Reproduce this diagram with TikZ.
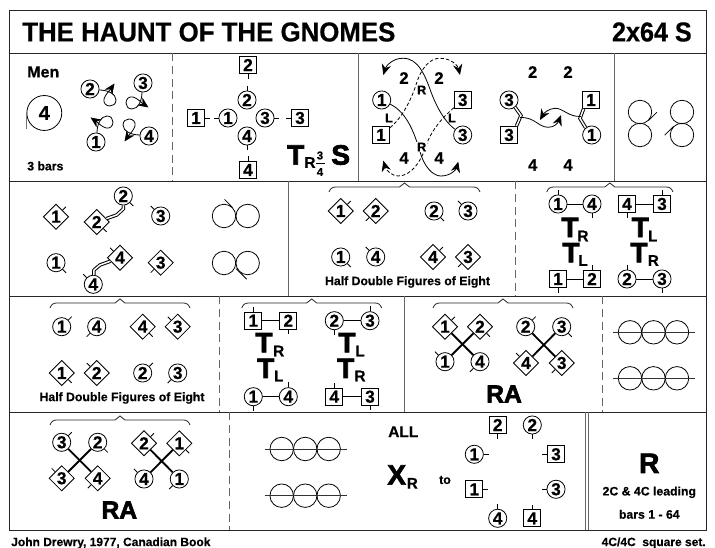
\documentclass[tikz,border=0pt]{standalone}
\usepackage{fontspec}
\setmainfont{Liberation Sans}[BoldFeatures={FakeBold=0.5}]
\newfontfamily\hvy{Liberation Sans}[BoldFeatures={FakeBold=2.6}]
\usetikzlibrary{arrows.meta,shapes.geometric}
\tikzset{
  frame/.style={draw=black!85,line width=0.8pt},
  sep/.style={draw=black!60,line width=0.8pt,dash pattern=on 6pt off 3.5pt},
  sepsolid/.style={draw=black!60,line width=0.9pt},
  man/.style={circle,draw,line width=0.6pt,minimum size=13.6pt,inner sep=0pt,font=\bfseries\fontsize{13}{13}\selectfont,fill=white},
  lady/.style={rectangle,draw,line width=0.6pt,minimum size=12.8pt,inner sep=0pt,font=\bfseries\fontsize{13}{13}\selectfont,fill=white},
  dia/.style={diamond,draw,line width=0.6pt,minimum size=19pt,inner sep=0pt,font=\bfseries\fontsize{13}{13}\selectfont,fill=white},
  tick/.style={line width=0.6pt},
  conn/.style={line width=0.6pt},
  thickconn/.style={line width=1.4pt},
  dbl/.style={line width=0.75pt,double=white,double distance=1.1pt,draw=black,line join=miter,miter limit=10},
  tipcurve/.style={line width=0.6pt,-{Stealth[length=8pt,width=7pt,inset=2.6pt]}},
  dashcurve/.style={tipcurve,dash pattern=on 2.6pt off 1.6pt},
  brace/.style={line width=0.6pt,draw=black!85},
  ring/.style={circle,draw,line width=0.6pt,minimum size=17.6pt,inner sep=0pt},
  lab/.style={font=\bfseries\fontsize{9.2}{9.2}\selectfont,inner sep=0pt},
  bign/.style={font=\bfseries\fontsize{12.5}{12.5}\selectfont,inner sep=0pt},
  smallrl/.style={font=\bfseries\fontsize{9.5}{9.5}\selectfont,inner sep=0.6pt},
  bigT/.style={font=\hvy\bfseries\fontsize{21}{21}\selectfont,inner sep=0pt},
  subT/.style={font=\bfseries\fontsize{11.5}{11.5}\selectfont,inner sep=0pt},
  RAt/.style={font=\hvy\bfseries\fontsize{18.5}{18.5}\selectfont,inner sep=0pt},
  captxt/.style={font=\bfseries\fontsize{9.2}{9.2}\selectfont,inner sep=0pt},
}
\newcommand{\dancer}[6]{\node[#1] (#2) at (#3,#4) {#5};
  \draw[tick] (#2.#6) -- ++(#6:3.6pt);}
\newcommand{\brc}[3]{%
  \draw[brace] (#1,#3+5) .. controls (#1+1.5,#3+1.5) and (#1+3,#3) .. (#1+7,#3)
    -- ({(#1+#2)/2-5},#3) -- ({(#1+#2)/2},#3-4) -- ({(#1+#2)/2+5},#3)
    -- (#2-7,#3) .. controls (#2-3,#3) and (#2-1.5,#3+1.5) .. (#2,#3+5);}
\newcommand{\threerings}[3]{%
  \node[ring] (#3a) at (#1,#2) {};
  \node[ring] (#3b) at (#1+23.5,#2) {};
  \node[ring] (#3c) at (#1+47,#2) {};
  \coordinate (#3l) at (#1-17,#2);
  \coordinate (#3r) at (#1+65,#2);
  \draw[line width=0.7pt,draw=black!80] (#3l) -- (#3r);}
\begin{document}
\begin{tikzpicture}[x=0.75pt,y=-0.75pt]
\useasboundingbox (0,0) rectangle (715,548);
% frame
\draw[frame] (9.5,10.5) rectangle (706.5,530.5);
\draw[frame] (9.5,53.5) -- (706.5,53.5);
\draw[frame] (9.5,181.5) -- (706.5,181.5);
\draw[frame] (9.5,296.5) -- (706.5,296.5);
\draw[frame] (9.5,412.5) -- (706.5,412.5);
\draw[sep] (172.5,53.5) -- (172.5,181.5);
\draw[sepsolid] (358.5,53.5) -- (358.5,181.5);
\draw[sepsolid] (614.5,53.5) -- (614.5,181.5);
\draw[sepsolid] (288.5,181.5) -- (288.5,296.5);
\draw[sep] (515.5,181.5) -- (515.5,296.5);
\draw[sep] (219.5,296.5) -- (219.5,412.5);
\draw[sepsolid] (404.5,296.5) -- (404.5,412.5);
\draw[sep] (602.5,296.5) -- (602.5,412.5);
\draw[sep] (229.5,412.5) -- (229.5,530.5);
\draw[sepsolid] (585.5,412.5) -- (585.5,530.5);
\draw[sepsolid] (588.5,412.5) -- (588.5,530.5);
% title
\node[anchor=west,inner sep=0pt,font=\bfseries\fontsize{20.5}{20.5}\selectfont] (title) at (22,32) {\scalebox{0.945}[1]{THE HAUNT OF THE GNOMES}};
\node[anchor=east,inner sep=0pt,font=\bfseries\fontsize{20.5}{20.5}\selectfont] (form) at (692,32) {\scalebox{0.92}[1]{2x64 S}};
% footer
\node[anchor=west,inner sep=0pt,font=\bfseries\fontsize{9}{9}\selectfont] (src) at (11,543) {John Drewry, 1977, Canadian Book};
\node[anchor=east,inner sep=0pt,font=\bfseries\fontsize{9}{9}\selectfont] (setn) at (706,543) {4C/4C\ \ square set.};
% ---------- Row 1, panel 1
\node[anchor=west,inner sep=0pt,font=\bfseries\fontsize{12}{12}\selectfont] (men) at (27,72) {Men};
\node[circle,draw,line width=0.6pt,minimum size=26.2pt,inner sep=0pt,font=\bfseries\fontsize{15}{15}\selectfont] (big4) at (44.3,113) {4};
\draw[line width=0.9pt,draw=black!55] (big4.west) -- ++(0,-12pt);
\node[anchor=west,lab] (bars3) at (27,166) {3 bars};
\node[man] (a2) at (90,89) {2};
\node[man] (a3) at (143,83) {3};
\node[man] (a4) at (149,136) {4};
\node[man] (a1) at (96,142) {1};
\foreach \ang in {0,-90,-180,-270}{
  \begin{scope}[rotate around={\ang:(119.5,112.5)}]
  \draw[tipcurve] (99,90) .. controls (108,90) and (116,94) .. (116,100) .. controls (116,104) and (113,106) .. (110,106) .. controls (106,106) and (103,103) .. (104,99) .. controls (105,95) and (110,90) .. (114.5,83.5);
  \end{scope}
}
% ---------- Row 1, panel 2
\dancer{lady}{b2s}{248}{65}{2}{-90}
\dancer{man}{b2}{247}{100}{2}{90}
\dancer{man}{b1}{228}{118}{1}{180}
\dancer{man}{b3}{265}{118}{3}{0}
\dancer{man}{b4}{247}{136}{4}{-90}
\dancer{lady}{b1s}{196}{118}{1}{0}
\dancer{lady}{b3s}{300}{118}{3}{180}
\dancer{lady}{b4s}{248}{170}{4}{90}
\node[bigT] (bT) at (295.7,155) {T};
\node[subT] (bR) at (310,162.5) {R};
\node[inner sep=0pt,font=\bfseries\fontsize{8.5}{8.5}\selectfont] (bf3) at (320,155.5) {3};
\node[inner sep=0pt,font=\bfseries\fontsize{8.5}{8.5}\selectfont] (bf4) at (320,172) {4};
\draw[line width=0.8pt] (316,163.5) -- (324.5,163.5);
\node[bigT] (bS) at (340.7,155) {S};
% ---------- Row 1, panel 3
\node[man] (c1) at (381.7,100) {1};
\node[lady] (c1s) at (381,135) {1};
\node[man] (c3) at (462.7,135) {3};
\node[lady] (c3s) at (462.7,100) {3};
\draw[dashcurve] (c1s) .. controls (402,118) and (411,100) .. (416,85) .. controls (421,68) and (430,58) .. (440,58.3) .. controls (451,58) and (458,66) .. (460,75);
\draw[dashcurve] (c3s) .. controls (442,118) and (432,130) .. (427,143) .. controls (422,160) and (412,176) .. (398,176) .. controls (392,176) and (386,170) .. (383.3,160.7);
\draw[tipcurve] (c1) .. controls (408,113) and (415,135) .. (421,155) .. controls (427,172) and (436,176) .. (441,176) .. controls (450,176) and (456,170) .. (458.3,161.7);
\draw[tipcurve] (c3) .. controls (445,122) and (437,108) .. (431,92) .. controls (425,75) and (418,58) .. (403,58.3) .. controls (393,58) and (386,66) .. (383.3,75);
\node[bign] (c2a) at (404,78) {2};
\node[bign] (c2b) at (439,78) {2};
\node[bign] (c4a) at (404,158) {4};
\node[bign] (c4b) at (439,158) {4};
\node[smallrl,fill=white] (cR1) at (421.7,90) {R};
\node[smallrl,fill=white] (cR2) at (421.7,147) {R};
\node[smallrl] (cL1) at (389,118) {L};
\node[smallrl] (cL2) at (452,118) {L};
% panel 3b
\node[bign] (d2a) at (532.7,72) {2};
\node[bign] (d2b) at (568,72) {2};
\node[bign] (d4a) at (532.7,165) {4};
\node[bign] (d4b) at (568,165) {4};
\node[man] (d3) at (509,100) {3};
\node[lady] (d3s) at (509,135) {3};
\node[lady] (d1s) at (591,100) {1};
\node[man] (d1) at (591.7,135) {1};
\coordinate (dzl) at (521,115.5);
\coordinate (dzr) at (580,118.5);
\draw[dbl] (d3.-50) -- (dzl) -- (d3s.50);
\draw[dbl] (d1s.-130) -- (dzr) -- (d1.130);
\draw[tipcurve] (dzl) ++(-1,2) .. controls (535,117) and (538,127) .. (548,127.3) .. controls (554,127.5) and (558,123) .. (561,115);
\draw[tipcurve] (dzr) ++(1,-2) .. controls (568,117) and (563,108) .. (555,108.3) .. controls (549,108.5) and (544,113) .. (540,120);
% panel 4
\node[ring] (e1) at (640,112) {};
\node[ring] (e2) at (640,135) {};
\node[ring] (e3) at (682,112) {};
\node[ring] (e4) at (682,135) {};
\draw[tick] (e1.-45) -- ++(45:8.8pt);
\draw[tick] (e4.135) -- ++(-135:9.3pt);
% ---------- Row 2, panel 1
\dancer{dia}{f1}{56}{216.7}{1}{45}
\dancer{dia}{f2}{96.7}{222}{2}{-45}
\dancer{man}{f2c}{123.3}{196}{2}{-45}
\dancer{man}{f3}{160.7}{216}{3}{135}
\dancer{man}{f1b}{56}{262.7}{1}{-45}
\dancer{dia}{f4}{120}{257.7}{4}{135}
\dancer{man}{f4c}{93.3}{284.3}{4}{135}
\dancer{dia}{f3b}{160.7}{262.7}{3}{-135}
\coordinate (fz1) at (116.7,215);
\coordinate (fz2) at (123.3,209);
\coordinate (fz3) at (100,265);
\coordinate (fz4) at (94,270);
\draw[dbl] (f2) -- (fz1) -- (fz2) -- (f2c);
\draw[dbl] (f4) -- (fz3) -- (fz4) -- (f4c);
\node[ring] (g1) at (224,216) {};
\node[ring] (g2) at (247.7,216) {};
\node[ring] (g3) at (224,263) {};
\node[ring] (g4) at (247.7,263) {};
\draw[tick] (g1.45) -- ++(135:8.5pt);
\draw[tick] ([shift={(135:3pt)}]g4.-135) -- ++(-45:11pt);
% ---------- Row 2, panel 2
\brc{329}{480}{187}
\dancer{dia}{h1}{340.7}{211}{1}{45}
\dancer{dia}{h2}{375.7}{211}{2}{-135}
\dancer{man}{h2c}{434}{211}{2}{-45}
\dancer{man}{h3c}{468}{211}{3}{135}
\dancer{man}{h1c}{340.7}{257}{1}{-45}
\dancer{man}{h4c}{375.7}{257}{4}{135}
\dancer{dia}{h4}{433}{257}{4}{45}
\dancer{dia}{h3}{468}{257}{3}{-135}
\node[captxt] (hcap) at (407.5,282) {Half Double Figures of Eight};
% ---------- Row 2, panel 3
\brc{546.7}{673}{187}
\dancer{man}{i1}{558}{204}{1}{90}
\dancer{man}{i4}{592}{204}{4}{-90}
\dancer{lady}{i4s}{627}{204}{4}{-90}
\dancer{lady}{i3s}{662}{204}{3}{90}
\draw[conn] (i1) -- (i4);
\draw[conn] (i4s) -- (i3s);
\node[bigT] (iT1) at (570,227.5) {T};
\node[subT] (iS1) at (583,236) {R};
\node[bigT] (iT2) at (571,252.7) {T};
\node[subT] (iS2) at (583,260.5) {L};
\node[bigT] (iT3) at (640.3,227.5) {T};
\node[subT] (iS3) at (652.7,236) {L};
\node[bigT] (iT4) at (639,252.7) {T};
\node[subT] (iS4) at (653.3,260.5) {R};
\dancer{lady}{i1s}{558}{279}{1}{-90}
\dancer{lady}{i2s}{592}{279}{2}{90}
\dancer{man}{i2}{627}{279}{2}{90}
\dancer{man}{i3}{662}{279}{3}{-90}
\draw[conn] (i1s) -- (i2s);
\draw[conn] (i2) -- (i3);
% ---------- Row 3, panel 1
\brc{50}{190}{303}
\dancer{man}{j1}{61.7}{326.7}{1}{45}
\dancer{man}{j4}{96.7}{326.7}{4}{-135}
\dancer{dia}{j4d}{142.7}{326.7}{4}{-45}
\dancer{dia}{j3d}{177.7}{326.7}{3}{135}
\dancer{dia}{j1d}{61.7}{373}{1}{-45}
\dancer{dia}{j2d}{96.7}{373}{2}{135}
\dancer{man}{j2}{142.7}{373}{2}{45}
\dancer{man}{j3}{177.7}{373}{3}{-135}
\node[captxt] (jcap) at (122,398) {Half Double Figures of Eight};
% ---------- Row 3, panel 2
\brc{241.7}{381.7}{303}
\dancer{lady}{k1s}{253.3}{320.7}{1}{90}
\dancer{lady}{k2s}{288.3}{320.7}{2}{-90}
\dancer{man}{k2}{334.3}{320.7}{2}{-90}
\dancer{man}{k3}{370}{320.7}{3}{90}
\draw[conn] (k1s) -- (k2s);
\draw[conn] (k2) -- (k3);
\node[bigT] (kT1) at (264,342.7) {T};
\node[subT] (kS1) at (278.7,351) {R};
\node[bigT] (kT2) at (265.7,368.3) {T};
\node[subT] (kS2) at (278.7,376) {L};
\node[bigT] (kT3) at (347,342.7) {T};
\node[subT] (kS3) at (360,351) {L};
\node[bigT] (kT4) at (345.7,368.3) {T};
\node[subT] (kS4) at (360,376) {R};
\dancer{man}{k1}{253.3}{396.7}{1}{-90}
\dancer{man}{k4}{288.3}{396.7}{4}{90}
\dancer{lady}{k4s}{334.3}{396.7}{4}{90}
\dancer{lady}{k3s}{370}{396.7}{3}{-90}
\draw[conn] (k1) -- (k4);
\draw[conn] (k4s) -- (k3s);
% ---------- Row 3, panel 3
\brc{433}{573}{303}
\dancer{dia}{l1d}{445}{326.7}{1}{45}
\dancer{dia}{l2d}{480}{326.7}{2}{-45}
\dancer{man}{l1}{445}{361.7}{1}{135}
\dancer{man}{l4}{480}{361.7}{4}{-135}
\draw[thickconn] (l1d) -- (l4);
\draw[thickconn] (l2d) -- (l1);
\dancer{man}{l2}{525.7}{326.7}{2}{45}
\dancer{man}{l3}{561.7}{326.7}{3}{-45}
\dancer{dia}{l4d}{526}{363}{4}{135}
\dancer{dia}{l3d}{561.7}{363}{3}{-135}
\draw[thickconn] (l2) -- (l3d);
\draw[thickconn] (l3) -- (l4d);
\node[RAt] (lRA) at (504,394) {RA};
% panel 4
\threerings{630}{332.3}{m}
\threerings{630}{378.3}{n}
% ---------- Row 4, panel 1
\brc{50}{190}{420}
\dancer{man}{o3}{61.7}{442.3}{3}{45}
\dancer{man}{o2}{97.7}{442.3}{2}{-45}
\dancer{dia}{o3d}{61.7}{478.3}{3}{135}
\dancer{dia}{o4d}{97.7}{478.3}{4}{-135}
\draw[thickconn] (o3) -- (o4d);
\draw[thickconn] (o2) -- (o3d);
\dancer{dia}{p2d}{144}{443.3}{2}{45}
\dancer{dia}{p1d}{179.3}{443.3}{1}{-45}
\dancer{man}{p4}{144}{479}{4}{135}
\dancer{man}{p1}{179.3}{479}{1}{-135}
\draw[thickconn] (p2d) -- (p1);
\draw[thickconn] (p1d) -- (p4);
\node[RAt] (oRA) at (119.3,510) {RA};
\threerings{281.7}{449}{q}
\threerings{281.7}{495.7}{r}
% ---------- Row 4, panel 3
\node[inner sep=0pt,font=\bfseries\fontsize{11.6}{11.6}\selectfont] (all) at (403.3,431.7) {ALL};
\node[bigT] (xX) at (396.7,475) {X};
\node[subT] (xR) at (412.3,483.3) {R};
\node[lab] (xto) at (445,480) {to};
\dancer{lady}{s2s}{497.7}{425}{2}{-90}
\dancer{man}{s2}{532.3}{425}{2}{-90}
\dancer{man}{s1}{474.3}{454.3}{1}{0}
\dancer{lady}{s3s}{556}{454.3}{3}{180}
\dancer{lady}{s1s}{474.3}{489.3}{1}{0}
\dancer{man}{s3}{556}{489.3}{3}{180}
\dancer{man}{s4}{497.7}{518.3}{4}{90}
\dancer{lady}{s4s}{532.3}{518.3}{4}{90}
% ---------- Row 4, panel 4
\node[bigT] (tR) at (649.3,463.3) {R};
\node[captxt] (t2c) at (649.3,492.3) {2C \& 4C leading};
\node[captxt] (tb) at (649.3,514.3) {bars 1 - 64};
\end{tikzpicture}
\end{document}
